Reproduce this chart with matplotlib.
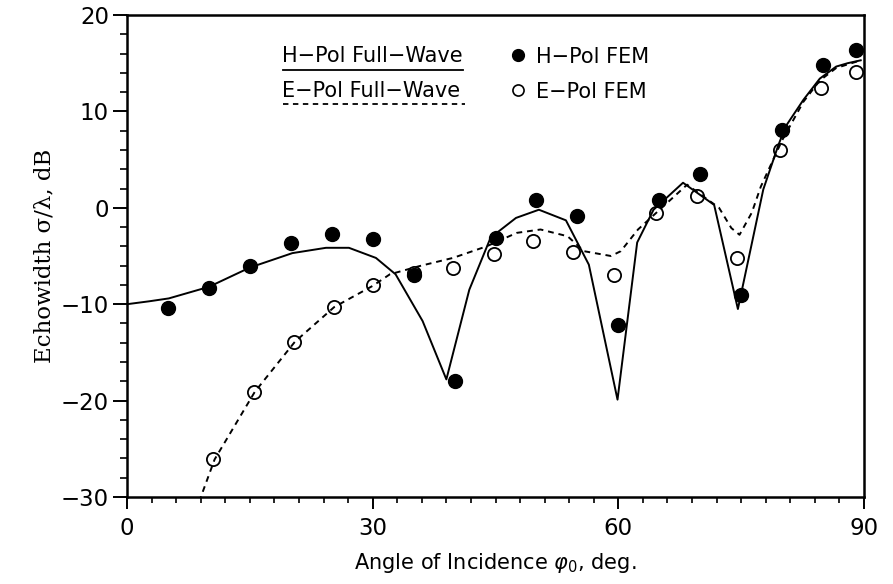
import numpy as np
import matplotlib
matplotlib.use('Agg')
import matplotlib.pyplot as plt
from matplotlib.lines import Line2D
from matplotlib.ticker import MultipleLocator

plt.rcParams['font.family'] = 'DejaVu Sans'

# FEM samples (deg, dB)
fem_ang = [5, 10, 15, 20, 25, 30, 35, 40, 45, 50, 55, 60, 65, 70, 75, 80, 85, 89]
h_fem = [-10.4, -8.3, -6.0, -3.6, -2.7, -3.2, -7.0, -18.0, -3.1, 0.8,
         -0.9, -12.2, 0.8, 3.5, -9.0, 8.1, 14.8, 16.4]
e_fem_ang = [10.5, 15.5, 20.4, 25.3, 30.1, 35, 39.8, 44.8, 49.6, 54.5,
             59.5, 64.6, 69.6, 74.5, 79.8, 84.7, 89]
e_fem = [-26.1, -19.1, -13.9, -10.3, -8.05, -6.8, -6.2, -4.8, -3.4, -4.6,
         -7.0, -0.5, 1.2, -5.2, 6.0, 12.4, 14.1]

# full-wave curves
h_ang = [0, 2.7, 5.1, 10, 15, 20.2, 24.3, 27.1, 30.4, 32.8, 36.1, 39.0,
         41.8, 44.4, 47.5, 50.3, 53.6, 56.4, 59.9, 62.3, 64.3, 67.9, 71.7,
         74.6, 77.7, 79.5, 80.4, 82.6, 84.6, 86.6, 88.0, 89.6]
h_fw = [-10.0, -9.7, -9.4, -8.2, -6.2, -4.7, -4.15, -4.15, -5.2, -6.9, -11.75,
        -17.8, -8.5, -3.1, -1.05, -0.2, -1.3, -5.9, -19.9, -3.6, -0.2, 2.6,
        0.3, -10.5, 1.9, 6.4, 8.4, 11.2, 13.4, 14.65, 15.0, 15.3]
e_ang = [8.8, 10.7, 15.6, 20.5, 25.3, 30.0, 32.1, 35.7, 39.8, 43.9, 47.6,
         50.5, 53.8, 55.8, 59.1, 60.3, 62.4, 64.4, 68.4, 72.3, 73.8, 74.8,
         76.3, 77.4, 78.7, 80.0, 82.6, 84.6, 86.6, 89.6]
e_fw = [-30.5, -26.1, -19.1, -13.9, -10.3, -8.1, -6.9, -6.05, -5.2, -4.0, -2.6,
        -2.25, -2.95, -4.5, -5.0, -4.5, -2.25, -0.7, 2.4, 0.0, -2.1, -2.8,
        -0.5, 2.2, 4.6, 7.0, 11.0, 13.2, 14.5, 15.3]

W, H = 893, 584
fig = plt.figure(figsize=(W / 100, H / 100), dpi=100)
ax = fig.add_axes([127 / W, 1 - 497 / H, (864 - 127) / W, (497 - 15) / H])

ax.plot(h_ang, h_fw, color='k', lw=1.4, zorder=2)
ax.plot(e_ang, e_fw, color='k', lw=1.4, ls=(0, (3, 2.5)), zorder=2)
ax.plot(e_fem_ang, e_fem, 'o', ms=9.5, mfc='none', mec='k', mew=1.3, zorder=3)
ax.plot(fem_ang, h_fem, 'o', ms=10, mfc='k', mec='k', zorder=4)

ax.set_xlim(0, 90)
ax.set_ylim(-30, 20)
ax.xaxis.set_major_locator(MultipleLocator(30))
ax.xaxis.set_minor_locator(MultipleLocator(3))
ax.yaxis.set_major_locator(MultipleLocator(10))
ax.yaxis.set_minor_locator(MultipleLocator(2))
ax.tick_params(axis='x', which='major', direction='out', length=8.5, width=1.4,
               labelsize=16.5, pad=6)
ax.tick_params(axis='x', which='minor', direction='out', length=4, width=1.2)
ax.tick_params(axis='y', which='major', direction='out', length=10, width=1.4,
               labelsize=16.5, pad=3)
ax.tick_params(axis='y', which='minor', direction='out', length=5, width=1.2)
for s in ax.spines.values():
    s.set_linewidth(1.8)

ax.set_xlabel(r'Angle of Incidence $\varphi_{\mathregular{0}}$, deg.', fontsize=15,
              labelpad=8)
ax.set_ylabel('Echowidth σ/λ, dB', fontsize=16.5, family='DejaVu Serif', labelpad=4)


# legend drawn by hand, positions in figure pixels
def fx(x):
    return x / W


def fy(y):
    return 1 - y / H


fig.text(fx(282), fy(56), 'H−Pol Full−Wave', fontsize=15, va='center', ha='left')
fig.text(fx(282), fy(91), 'E−Pol Full−Wave', fontsize=15, va='center', ha='left')
fig.add_artist(Line2D([fx(283), fx(463)], [fy(70), fy(70)], color='k', lw=1.3))
fig.add_artist(Line2D([fx(283), fx(465)], [fy(104), fy(104)], color='k', lw=1.3,
                      ls=(0, (3, 2.5))))
fig.add_artist(Line2D([fx(518)], [fy(55)], marker='o', ms=8.5, mfc='k', mec='k', ls=''))
fig.add_artist(Line2D([fx(518)], [fy(90)], marker='o', ms=8, mfc='none', mec='k',
                      mew=1.2, ls=''))
fig.text(fx(536), fy(57), 'H−Pol FEM', fontsize=15, va='center', ha='left')
fig.text(fx(536), fy(92), 'E−Pol FEM', fontsize=15, va='center', ha='left')

plt.savefig('out.png', dpi=100)
